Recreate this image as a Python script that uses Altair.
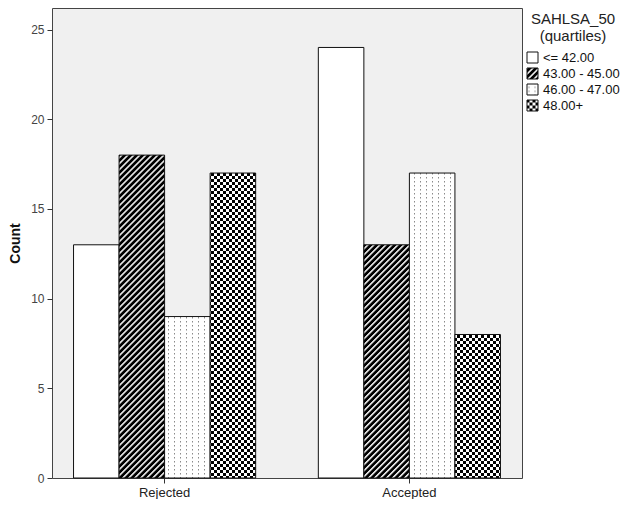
import altair as alt
import pandas as pd

# ---------------- data ----------------
groups = ["Rejected", "Accepted"]
quartiles = ["<= 42.00", "43.00 - 45.00", "46.00 - 47.00", "48.00+"]
rejected_counts = [13, 18, 9, 17]
accepted_counts = [24, 13, 17, 8]
y_ticks = [0, 5, 10, 15, 20, 25]
legend_title = ["SAHLSA_50", "(quartiles)"]

# fills: plain white + SVG patterns (defined in the page, referenced by id)
pattern_fills = ["white", "url(#sahDiag)", "url(#sahDots)", "url(#sahCheck)"]

PATTERN_DEFS = """
<svg width="0" height="0" aria-hidden="true" style="position:absolute;width:0;height:0;overflow:hidden">
 <defs>
  <pattern id="sahDiag" patternUnits="userSpaceOnUse" width="4.24" height="4.24" patternTransform="rotate(45)">
   <rect width="4.24" height="4.24" fill="#000"/>
   <rect x="0" y="0" width="1.5" height="4.24" fill="#fff"/>
  </pattern>
  <pattern id="sahDots" patternUnits="userSpaceOnUse" width="6" height="4">
   <rect width="6" height="4" fill="#fff"/>
   <rect x="2" y="1" width="1" height="1.5" fill="#8a8a8a"/>
  </pattern>
  <pattern id="sahCheck" patternUnits="userSpaceOnUse" width="6" height="6">
   <rect width="6" height="6" fill="#fff"/>
   <rect x="0" y="0" width="3" height="3" fill="#000"/>
   <rect x="3" y="3" width="3" height="3" fill="#000"/>
  </pattern>
 </defs>
</svg>
"""

try:
    import altair.utils.html as _alt_html

    class _PatternTemplate:
        def __init__(self, base):
            self.base = base

        def render(self, *args, **kwargs):
            html = self.base.render(*args, **kwargs)
            if "<body>" in html:
                return html.replace("<body>", "<body>" + PATTERN_DEFS, 1)
            return PATTERN_DEFS + html

    _alt_html.TEMPLATES["standard"] = _PatternTemplate(_alt_html.TEMPLATES["standard"])
except Exception:
    pass

rows = []
for q, r, a in zip(quartiles, rejected_counts, accepted_counts):
    rows.append({"status": groups[0], "quartile": q, "count": r})
    rows.append({"status": groups[1], "quartile": q, "count": a})
df = pd.DataFrame(rows)

FONT = "Liberation Sans"
W, H = 470, 470

chart = (
    alt.Chart(df)
    .mark_bar(stroke="#111", strokeWidth=1)
    .encode(
        x=alt.X(
            "status:N",
            sort=groups,
            title=None,
            scale=alt.Scale(paddingInner=0.256, paddingOuter=0.088),
            axis=alt.Axis(
                labelAngle=0, domain=False, ticks=True, tickSize=5,
                tickColor="#333", labelFontSize=13, labelColor="#222",
                labelPadding=3, labelFont=FONT,
            ),
        ),
        xOffset=alt.XOffset(
            "quartile:N", sort=quartiles,
            scale=alt.Scale(paddingInner=0, paddingOuter=0),
        ),
        y=alt.Y(
            "count:Q",
            title="Count",
            scale=alt.Scale(domain=[0, 26.2], nice=False),
            axis=alt.Axis(
                values=y_ticks, grid=False, domain=False, tickSize=5,
                tickColor="#333", labelFontSize=12, labelColor="#444",
                labelPadding=3, labelFont=FONT,
                titleFontSize=14, titleFontWeight="bold", titlePadding=8,
                titleColor="#111", titleFont=FONT,
            ),
        ),
        color=alt.Color(
            "quartile:N",
            sort=quartiles,
            scale=alt.Scale(domain=quartiles, range=pattern_fills),
            legend=alt.Legend(
                title=legend_title, orient="none", legendX=W + 4, legendY=4,
                symbolType="square", symbolSize=121,
                symbolStrokeColor="#111", symbolStrokeWidth=1,
                labelFontSize=13, labelColor="#111", labelFont=FONT,
                labelOffset=4,
                titleFontSize=15, titleFontWeight="normal", titleColor="#222",
                titleFont=FONT, titleAnchor="middle", titleAlign="center",
                titleLineHeight=17, titlePadding=7, rowPadding=1,
            ),
        ),
    )
    .properties(width=W, height=H, padding=0)
    .configure_view(fill="#f0f0f0", stroke="#444", strokeWidth=1)
)

chart.save("out.html", embed_options={"renderer": "svg", "actions": False})
